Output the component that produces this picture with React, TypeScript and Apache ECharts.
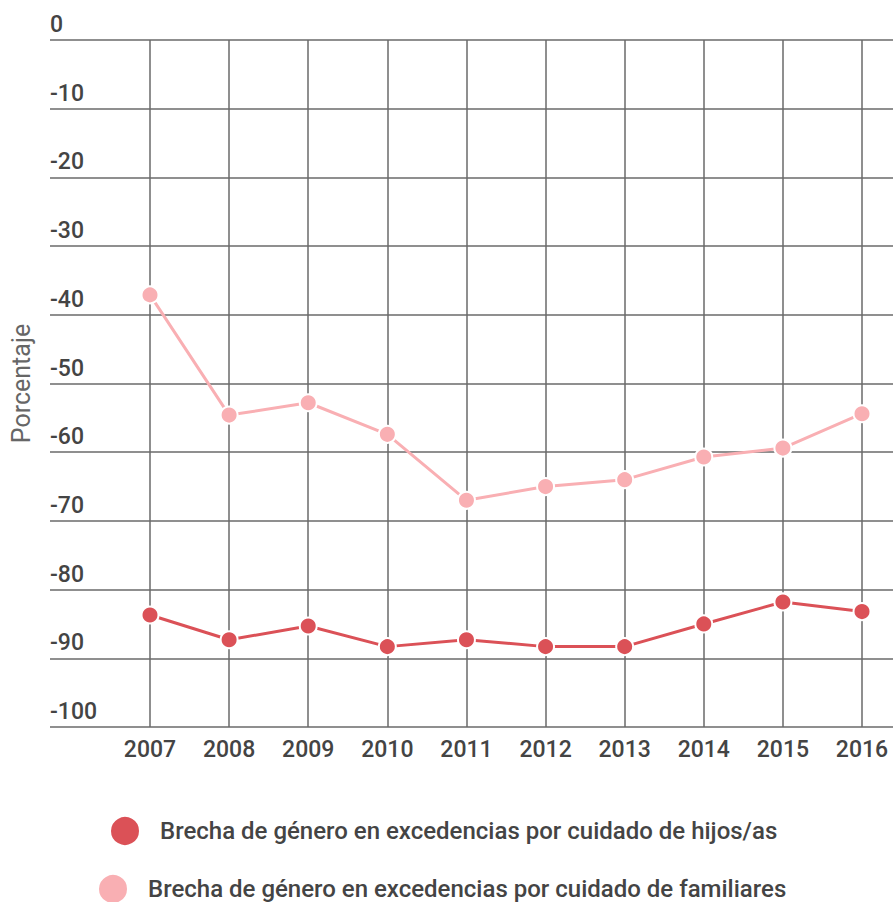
import React, { useEffect, useRef } from "react";
import * as echarts from "echarts";

const years = ["2007", "2008", "2009", "2010", "2011", "2012", "2013", "2014", "2015", "2016"];
const hijosName = "Brecha de género en excedencias por cuidado de hijos/as";
const familiaresName = "Brecha de género en excedencias por cuidado de familiares";
const hijosValues = [-83.7, -87.3, -85.3, -88.3, -87.3, -88.3, -88.3, -85.0, -81.8, -83.2];
const familiaresValues = [-37.1, -54.6, -52.8, -57.4, -67.0, -65.0, -64.0, -60.7, -59.4, -54.4];
const yMin = -100;
const yMax = 0;
const yStep = 10;
const yAxisName = "Porcentaje";

const DARK = "#db5157";
const LIGHT = "#f9afb3";
const GRID = "#6a6a6a";
const FONT = "Roboto";

export default function App() {
  const ref = useRef<HTMLDivElement>(null);
  useEffect(() => {
    document.body.style.margin = "0";
    const chart = echarts.init(ref.current!, null, { renderer: "svg" });
    const common = { top: 40, bottom: 175 };
    chart.setOption({
      animation: false,
      backgroundColor: "#fff",
      textStyle: { fontFamily: FONT },
      grid: [
        { ...common, left: 50, right: 0 },
        { ...common, left: 150, right: 31 },
      ],
      legend: [
        {
          data: [{ name: hijosName, icon: "circle" }],
          left: 104,
          top: 810,
          itemWidth: 60,
          itemHeight: 30,
          textStyle: { fontSize: 24, fontWeight: 500, color: "#444", fontFamily: FONT },
          selectedMode: false,
        },
        {
          data: [{ name: familiaresName, icon: "circle" }],
          left: 92,
          top: 868,
          itemWidth: 60,
          itemHeight: 30,
          textStyle: { fontSize: 24, fontWeight: 500, color: "#444", fontFamily: FONT },
          selectedMode: false,
        },
      ],
      xAxis: [
        { type: "value", gridIndex: 0, show: false, min: 0, max: 1 },
        {
          type: "category",
          gridIndex: 1,
          data: years,
          boundaryGap: false,
          axisLine: { show: false },
          axisTick: { show: false },
          splitLine: { show: true, lineStyle: { color: GRID, width: 1.5 } },
          axisLabel: { color: "#444", fontSize: 23, fontWeight: 500, margin: 11, fontFamily: FONT },
        },
      ],
      yAxis: [
        {
          type: "value",
          gridIndex: 0,
          min: yMin,
          max: yMax,
          interval: yStep,
          name: yAxisName,
          nameLocation: "middle",
          nameGap: 16,
          nameTextStyle: { color: "#666", fontSize: 25, fontFamily: FONT },
          axisLine: { show: false },
          axisTick: { show: false },
          splitLine: { show: true, lineStyle: { color: GRID, width: 1.5 } },
          axisLabel: {
            inside: true,
            margin: 0,
            verticalAlign: "bottom",
            padding: [0, 0, 4, 0],
            color: "#444",
            fontSize: 23,
            fontWeight: 500,
            fontFamily: FONT,
          },
        },
        {
          type: "value",
          gridIndex: 1,
          min: yMin,
          max: yMax,
          interval: yStep,
          show: false,
          splitLine: { show: false },
        },
      ],
      series: [
        {
          name: hijosName,
          type: "line",
          xAxisIndex: 1,
          yAxisIndex: 1,
          data: hijosValues,
          symbol: "circle",
          symbolSize: 17,
          lineStyle: { color: DARK, width: 3 },
          itemStyle: { color: DARK, borderColor: "#fff", borderWidth: 2 },
          z: 3,
        },
        {
          name: familiaresName,
          type: "line",
          xAxisIndex: 1,
          yAxisIndex: 1,
          data: familiaresValues,
          symbol: "circle",
          symbolSize: 17,
          lineStyle: { color: LIGHT, width: 3 },
          itemStyle: { color: LIGHT, borderColor: "#fff", borderWidth: 2 },
          z: 3,
        },
      ],
    });
    return () => chart.dispose();
  }, []);
  return <div ref={ref} style={{ width: 893, height: 902 }} />;
}
